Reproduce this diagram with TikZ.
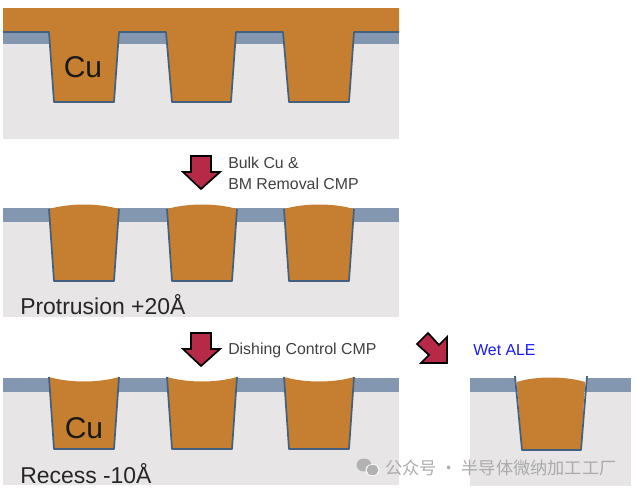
\documentclass[tikz,border=0pt]{standalone}
\usepackage{fontspec}
\setmainfont{Liberation Sans}
\newfontfamily\cjkfont{Noto Sans CJK SC}
\usetikzlibrary{positioning}
\definecolor{cufill}{HTML}{C67F31}
\definecolor{barrierfill}{HTML}{8497B0}
\definecolor{linerline}{HTML}{44607F}
\definecolor{oxidefill}{HTML}{E7E5E5}
\definecolor{arrowfill}{HTML}{B62A48}

\begin{document}
\begin{tikzpicture}[
  x=0.75pt,y=-0.75pt,
  oxide/.style={fill=oxidefill,draw=none},
  barrier/.style={fill=barrierfill,draw=none},
  copper/.style={fill=cufill,draw=none},
  liner/.style={draw=linerline,line width=1.3pt,line join=round},
  downarrow/.style={fill=arrowfill,draw=black,line width=1.3pt,line join=miter},
  biglabel/.style={inner sep=0pt,font=\fontsize{17.2}{20}\selectfont,text=black!85},
  culabel/.style={inner sep=0pt,font=\fontsize{22.5}{26}\selectfont,text=black!90},
  steplabel/.style={inner sep=0pt,anchor=west,align=left,font=\fontsize{11.9}{15}\selectfont,text=black!75},
  watermark/.style={inner sep=0pt,anchor=west,font=\cjkfont\fontsize{12.9}{16}\selectfont,text=black!33}
]
\useasboundingbox (0,0) rectangle (637,493);

% top panel
\fill[oxide] (3,8) rectangle (399,139);
\fill[barrier] (3,32) rectangle (399,44);
\fill[copper] (3,8) -- (399,8) -- (399,32) -- (354,32) -- (349,102) -- (289,102) -- (283,32)
  -- (236,32) -- (231,102) -- (172,102) -- (166,32) -- (119,32) -- (114,102) -- (54,102) -- (49,32) -- (3,32) -- cycle;
\draw[liner] (3,32) -- (49,32) -- (54,102) -- (114,102) -- (119,32) -- (166,32) -- (172,102)
  -- (231,102) -- (236,32) -- (283,32) -- (289,102) -- (349,102) -- (354,32) -- (399,32);
\node[culabel] (cuTop) at (83,67) {Cu};

% middle panel
\fill[oxide] (3,208) rectangle (399,317);
\fill[barrier] (3,208) rectangle (399,222);
\foreach \dx in {0,118,235} {
  \fill[copper,xshift=\dx*0.75pt] (49,209) .. controls (70,203) and (98,203) .. (119,209) -- (114,281) -- (54,281) -- cycle;
  \draw[liner,xshift=\dx*0.75pt] (49,209) -- (54,281) -- (114,281) -- (119,209);
}
\node[biglabel,anchor=west] (protrusion) at (20,305) {Protrusion +20Å};

% bottom panel
\fill[oxide] (3,378) rectangle (399,485);
\fill[barrier] (3,378) rectangle (399,392);
\foreach \dx in {0,118,235} {
  \fill[white,xshift=\dx*0.75pt] (49,377) rectangle (119,385);
  \fill[copper,xshift=\dx*0.75pt] (49,377) .. controls (70,383) and (98,383) .. (119,377) -- (114,449) -- (54,449) -- cycle;
  \draw[liner,xshift=\dx*0.75pt] (49,377) -- (54,449) -- (114,449) -- (119,377);
}
\node[culabel] (cuBottom) at (84,428) {Cu};
\node[biglabel,anchor=west] (recess) at (20,474) {Recess -10Å};

% wet ALE panel
\fill[oxide] (470,378) rectangle (631,486);
\fill[barrier] (470,378) rectangle (631,392);
\fill[white] (515,375) rectangle (587,386);
\fill[copper] (517,382) .. controls (535,376) and (566,376) .. (585,382) -- (581,450) -- (522,450) -- cycle;
\draw[liner] (515,376) -- (522,450) -- (581,450) -- (587,376);

% process arrows
\draw[downarrow] (191,156) -- (211,156) -- (211,172) -- (220,172) -- (201,189) -- (183,172) -- (191,172) -- cycle;
\draw[downarrow] (191,333) -- (211,333) -- (211,349) -- (220,349) -- (201,366) -- (183,349) -- (191,349) -- cycle;
\draw[downarrow] (428,333) -- (439,345) -- (447,337) -- (447,363) -- (421,363) -- (429,355) -- (417,344) -- cycle;

\node[steplabel] (bulkCu) at (228,173) {Bulk Cu \&\\[1pt]BM Removal CMP};
\node[steplabel] (dishing) at (228,350.5) {Dishing Control CMP};
\node[steplabel,text=blue!90] (wetAle) at (473,350.5) {Wet ALE};

% account mark
\fill[black!30] (364,465) ellipse [x radius=7.5,y radius=6.5];
\fill[white] (372.5,470) ellipse [x radius=7,y radius=6];
\fill[black!30] (372.5,470) ellipse [x radius=6,y radius=5.2];
\node[watermark] (account) at (385,468) {公众号 · 半导体微纳加工工厂};
\end{tikzpicture}
\end{document}
